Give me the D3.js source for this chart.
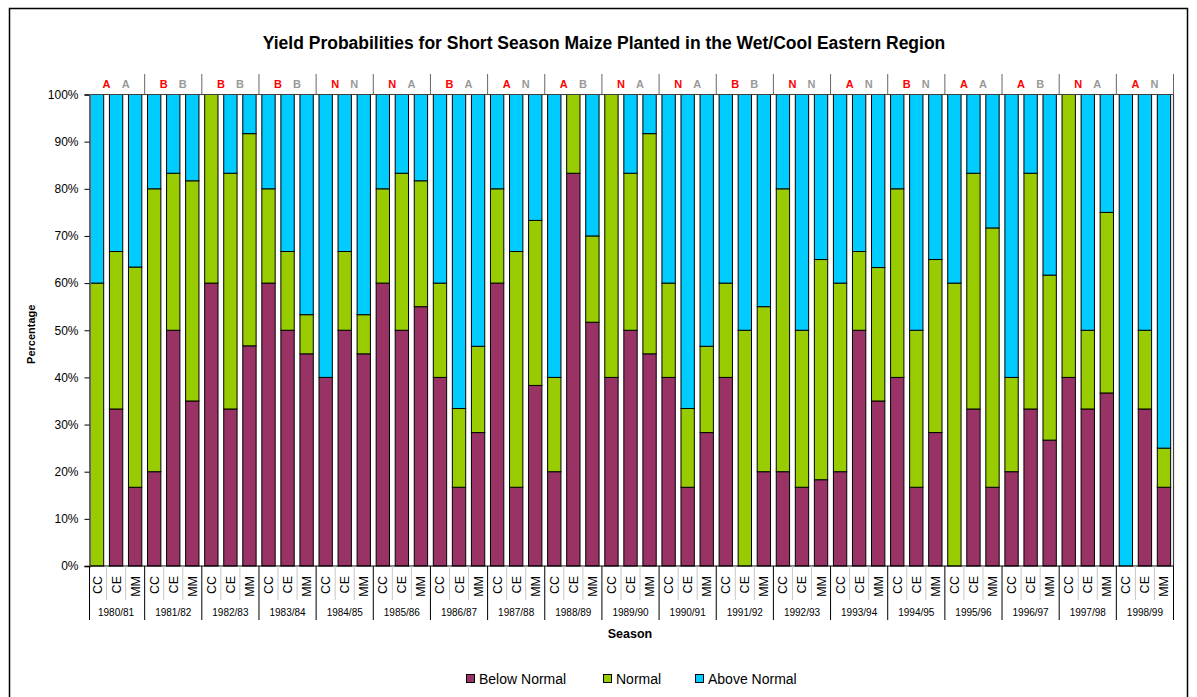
<!DOCTYPE html>
<html>
<head>
<meta charset="utf-8">
<script src="https://cdn.jsdelivr.net/npm/d3@7"></script>
<style>
  html, body { margin: 0; padding: 0; background: #fff; }
  svg { display: block; font-family: "Liberation Sans", Arial, sans-serif; }
</style>
</head>
<body>
<svg id="chart" width="1197" height="697"></svg>
<script>
// Seasons and the three forecast sources shown within each season
const seasons = ["1980/81","1981/82","1982/83","1983/84","1984/85","1985/86","1986/87",
  "1987/88","1988/89","1989/90","1990/91","1991/92","1992/93","1993/94","1994/95",
  "1995/96","1996/97","1997/98","1998/99"];
const models = ["CC", "CE", "MM"];

// Category flags printed above each season (forecast / observed)
const forecastFlag = ["A","B","B","B","N","N","B","A","A","N","N","B","N","A","B","A","A","N","A"];
const observedFlag = ["A","B","B","B","N","A","A","N","B","A","A","B","N","N","N","A","B","A","N"];

// Probabilities (%) in season order, CC / CE / MM within each season
const belowNormal = [
  0, 33.3, 16.7,   20, 50, 35,   60, 33.3, 46.7,   60, 50, 45,   40, 50, 45,
  60, 50, 55,   40, 16.7, 28.3,   60, 16.7, 38.3,   20, 83.3, 51.7,   40, 50, 45,
  40, 16.7, 28.3,   40, 0, 20,   20, 16.7, 18.3,   20, 50, 35,   40, 16.7, 28.3,
  0, 33.3, 16.7,   20, 33.3, 26.7,   40, 33.3, 36.7,   0, 33.3, 16.7];
const normal = [
  60, 33.4, 46.7,   60, 33.3, 46.7,   40, 50, 45,   20, 16.7, 8.3,   0, 16.7, 8.3,
  20, 33.3, 26.7,   20, 16.7, 18.3,   20, 50, 35,   20, 16.7, 18.3,   60, 33.3, 46.7,
  20, 16.7, 18.3,   20, 50, 35,   60, 33.3, 46.7,   40, 16.7, 28.3,   40, 33.3, 36.7,
  60, 50, 55,   20, 50, 35,   60, 16.7, 38.3,   0, 16.7, 8.3];
const aboveNormal = [
  40, 33.3, 36.6,   20, 16.7, 18.3,   0, 16.7, 8.3,   20, 33.3, 46.7,   60, 33.3, 46.7,
  20, 16.7, 18.3,   40, 66.6, 53.4,   20, 33.3, 26.7,   60, 0, 30,   0, 16.7, 8.3,
  40, 66.6, 53.4,   40, 50, 45,   20, 50, 35,   40, 33.3, 36.7,   20, 50, 35,
  40, 16.7, 28.3,   60, 16.7, 38.3,   0, 50, 25,   100, 50, 75];

const seriesNames = ["Below Normal", "Normal", "Above Normal"];
const seriesColors = ["#993366", "#99CC00", "#00CCFF"];

// Build one row per bar
const rows = [];
seasons.forEach((s, si) => models.forEach((m, mi) => {
  const i = si * 3 + mi;
  rows.push({ key: s + "|" + m, season: s, model: m,
    "Below Normal": belowNormal[i], "Normal": normal[i], "Above Normal": aboveNormal[i] });
}));

const svg = d3.select("#chart");
const plot = { left: 89.5, right: 1173.5, top: 94.5, bottom: 566 };

// Outer chart border
svg.append("rect").attr("x", 9.5).attr("y", 8.5).attr("width", 1178).attr("height", 700)
  .attr("fill", "#fff").attr("stroke", "#000").attr("stroke-width", 1.5);

const x = d3.scaleBand().domain(rows.map(d => d.key))
  .range([plot.left - 2, plot.right]).paddingInner(0.3).paddingOuter(0.15);
const y = d3.scaleLinear().domain([0, 100]).range([plot.bottom, plot.top]);
const seasonStep = x.step() * 3;
const seasonX = si => plot.left - 2 + si * seasonStep;

// Title
svg.append("text").attr("x", 604).attr("y", 49).attr("text-anchor", "middle")
  .attr("font-weight", "bold").attr("font-size", 17.5)
  .text("Yield Probabilities for Short Season Maize Planted in the Wet/Cool Eastern Region");

// Stacked bars
const stack = d3.stack().keys(seriesNames)(rows);
svg.append("g").selectAll("g").data(stack).join("g")
  .attr("fill", (d, i) => seriesColors[i])
  .selectAll("rect").data(d => d.filter(p => p[1] - p[0] > 0)).join("rect")
  .attr("x", d => x(d.data.key))
  .attr("width", x.bandwidth())
  .attr("y", d => y(d[1]))
  .attr("height", d => y(d[0]) - y(d[1]))
  .attr("stroke", "#000").attr("stroke-width", 1);

// Plot frame
svg.append("path")
  .attr("d", `M${plot.left},${plot.top}H${plot.right}V${plot.bottom}`)
  .attr("fill", "none").attr("stroke", "#404040").attr("stroke-width", 1.2);

// Y axis
const yAxis = svg.append("g").attr("transform", `translate(${plot.left},0)`)
  .call(d3.axisLeft(y).tickValues(d3.range(0, 101, 10)).tickFormat(d => d + "%")
    .tickSize(5).tickPadding(6));
yAxis.select(".domain").attr("stroke", "#666").attr("stroke-width", 2);
yAxis.selectAll(".tick line").attr("stroke", "#000");
yAxis.selectAll("text").attr("font-size", 12).attr("font-family", "Liberation Sans, Arial, sans-serif")
  .attr("fill", "#000");

svg.append("text").attr("transform", `translate(35,${(plot.top + plot.bottom) / 2 + 4}) rotate(-90)`)
  .attr("text-anchor", "middle").attr("font-weight", "bold").attr("font-size", 11)
  .text("Percentage");

// X baseline
svg.append("line").attr("x1", plot.left).attr("x2", plot.right)
  .attr("y1", plot.bottom).attr("y2", plot.bottom).attr("stroke", "#000");

// Header row of category flags
const header = svg.append("g");
seasons.forEach((s, si) => {
  const sx = seasonX(si);
  if (si > 0) header.append("line").attr("x1", sx).attr("x2", sx).attr("y1", 74).attr("y2", plot.top)
    .attr("stroke", "#666");
  header.append("text").attr("x", sx + seasonStep / 3).attr("y", 87.5).attr("text-anchor", "middle")
    .attr("font-weight", "bold").attr("font-size", 11).attr("fill", "#ff0000").text(forecastFlag[si]);
  header.append("text").attr("x", sx + seasonStep * 2 / 3).attr("y", 87.5).attr("text-anchor", "middle")
    .attr("font-weight", "bold").attr("font-size", 11).attr("fill", "#999").text(observedFlag[si]);
});
header.append("line").attr("x1", plot.right).attr("x2", plot.right).attr("y1", 74).attr("y2", plot.top)
  .attr("stroke", "#666");

// Multi-level category axis
const xa = svg.append("g");
rows.forEach((d, i) => {
  const cx = x(d.key) + x.bandwidth() / 2;
  xa.append("text").attr("transform", `translate(${cx + 4.5},576) rotate(-90)`)
    .attr("text-anchor", "end").attr("font-size", 12.5).attr("fill", "#000").text(d.model);
  if (i % 3 !== 0) {
    const bx = x(d.key) - x.step() * x.paddingInner() / 2;
    xa.append("line").attr("x1", bx).attr("x2", bx).attr("y1", plot.bottom).attr("y2", 600)
      .attr("stroke", "#c8c8c8");
  }
});
for (let si = 0; si <= seasons.length; si++) {
  const sx = si === seasons.length ? plot.right : Math.max(seasonX(si), plot.left);
  xa.append("line").attr("x1", sx).attr("x2", sx).attr("y1", plot.bottom).attr("y2", 620)
    .attr("stroke", "#000");
  if (si < seasons.length) {
    xa.append("text").attr("x", seasonX(si) + seasonStep / 2).attr("y", 615.5)
      .attr("text-anchor", "middle").attr("font-size", 10).text(seasons[si]);
  }
}

svg.append("text").attr("x", 630).attr("y", 638).attr("text-anchor", "middle")
  .attr("font-weight", "bold").attr("font-size", 12.5).text("Season");

// Legend
const legendX = [466, 603, 695];
const legend = svg.append("g");
seriesNames.forEach((n, i) => {
  legend.append("rect").attr("x", legendX[i] + 0.5).attr("y", 674.5).attr("width", 8).attr("height", 8)
    .attr("fill", seriesColors[i]).attr("stroke", "#000");
  legend.append("text").attr("x", legendX[i] + 13).attr("y", 684).attr("font-size", 14).text(n);
});
</script>
</body>
</html>
